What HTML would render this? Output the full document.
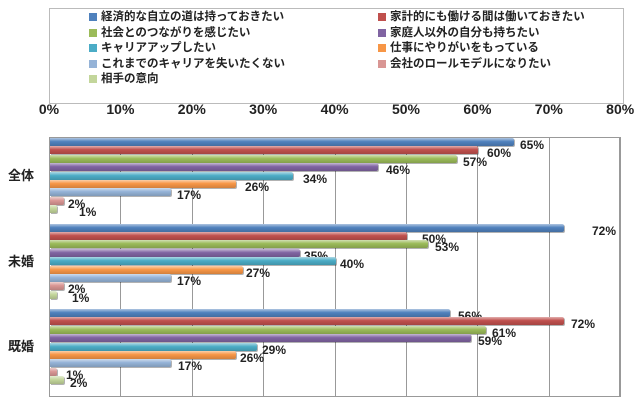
<!DOCTYPE html>
<html><head><meta charset="utf-8"><style>
body{margin:0;width:640px;height:403px;background:#fff;position:relative;overflow:hidden;font-family:"Liberation Sans","Noto Sans CJK JP",sans-serif;}
.a{position:absolute}
.leg{left:49px;top:8px;width:573px;height:94px;border:1px solid #bbb;}
.li{position:absolute;font-size:11.5px;font-weight:bold;color:#222;line-height:13px;white-space:nowrap}
.li i{display:inline-block;width:8px;height:8px;margin-right:4px;vertical-align:-1px}
.ax{position:absolute;top:101px;font-size:14px;font-weight:bold;color:#222;width:50px;text-align:center}
.g{position:absolute;top:137px;height:260px;width:1px;background:#999}
.b{position:absolute;height:8px;border-radius:0 2px 2px 0}
.v{position:absolute;font-size:12px;font-weight:bold;color:#222;line-height:12px}
.cat{position:absolute;left:8px;font-size:13px;font-weight:bold;color:#222}
</style></head><body>
<div class="a leg"></div>
<div id="C"></div>
<script>
var cols=["#4f81bd","#c0504d","#9bbb59","#8064a2","#4bacc6","#f79646","#95b3d7","#d99694","#c3d69b"];
var names=["経済的な自立の道は持っておきたい","家計的にも働ける間は働いておきたい","社会とのつながりを感じたい","家庭人以外の自分も持ちたい","キャリアアップしたい","仕事にやりがいをもっている","これまでのキャリアを失いたくない","会社のロールモデルになりたい","相手の意向"];
var h="";
for(var i=0;i<9;i++){var x=i%2?378:89,y=11+Math.floor(i/2)*15.5;
h+='<div class="li" style="left:'+x+'px;top:'+y+'px"><i style="background:'+cols[i]+'"></i>'+names[i]+'</div>';}
for(var k=0;k<=8;k++){var gx=49+k*71.4;h+='<div class="ax" style="left:'+(gx-25)+'px">'+(k*10)+'%</div>';
h+='<div class="g" style="left:'+gx+'px"></div>';}
h+='<div class="a" style="left:49px;top:137px;width:571px;height:260px;border:1px solid #999;box-sizing:border-box"></div>';
var data=[[65,60,57,46,34,26,17,2,1],[72,50,53,35,40,27,17,2,1],[56,72,61,59,29,26,17,1,2]];
var lx=[[520,487,463,386,303,245,177,68,79],[592,422,435,304,340,246,177,68,72],[458,571,492,478,262,240,178,66,70]];
var cats=["全体","未婚","既婚"];
for(var g=0;g<3;g++){var y0=138+g*85.5;
h+='<div class="cat" style="top:'+(y0+27)+'px">'+cats[g]+'</div>';
for(var j=0;j<9;j++){var y=y0+j*8.4,w=data[g][j]*7.14,c=cols[j];
h+='<div class="b" style="left:50px;top:'+y+'px;width:'+w+'px;background:'+c+';background-image:linear-gradient(rgba(255,255,255,.55),rgba(255,255,255,0) 45%,rgba(0,0,0,.15));box-shadow:1px 1px 0 rgba(0,0,0,.3)"></div>';
h+='<div class="v" style="left:'+lx[g][j]+'px;top:'+(y+1)+'px">'+data[g][j]+'%</div>';}}
document.getElementById("C").innerHTML=h;
</script>
</body></html>
